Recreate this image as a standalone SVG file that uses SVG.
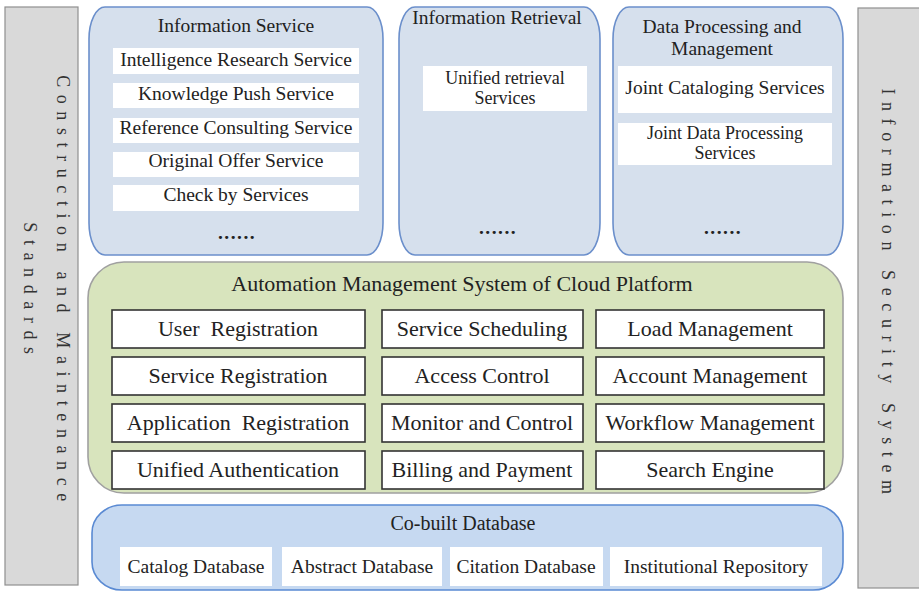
<svg xmlns="http://www.w3.org/2000/svg" width="919" height="592" viewBox="0 0 919 592">
<style>
text{font-family:"Liberation Serif","Times New Roman",serif;fill:#222;}
.side{fill:#d9d9d9;stroke:#8f8f8f;stroke-width:1.2;}
.sideT{font-size:18px;letter-spacing:7.6px;text-anchor:middle;dominant-baseline:central;fill:#333;}
.top{fill:#d6e0ed;stroke:#6b8fcb;stroke-width:1.6;}
.wbox{fill:#ffffff;stroke:none;}
.t19{font-size:19.5px;text-anchor:middle;}
.t18{font-size:18px;text-anchor:middle;}
.dots{font-size:19.5px;text-anchor:middle;font-weight:bold;letter-spacing:1.5px;}
.green{fill:#d8e4bd;stroke:#a0a0a0;stroke-width:1.6;}
.cell{fill:#ffffff;stroke:#333;stroke-width:1.6;}
.t22{font-size:22px;text-anchor:middle;}
.db{fill:#c6d9f1;stroke:#5a8ad3;stroke-width:1.6;}
</style>
<rect width="919" height="592" fill="#ffffff"/>

<g id="construction-standards">
<rect class="side" x="5" y="7" width="73" height="578"/>
<text class="sideT" transform="translate(63,292) rotate(90)">Construction and Maintenance</text>
<text class="sideT" transform="translate(30,292) rotate(90)">Standards</text>
</g>

<g id="security-system">
<rect class="side" x="858" y="8" width="64" height="580"/>
<text class="sideT" transform="translate(888,295) rotate(90)">Information Security System</text>
</g>

<g id="information-service">
<rect class="top" x="89" y="7" width="294" height="248" rx="16" ry="32"/>
<text class="t19" x="236" y="32">Information Service</text>
<rect class="wbox" x="113" y="48" width="246" height="26"/>
<text class="t19" x="236" y="66">Intelligence Research Service</text>
<rect class="wbox" x="113" y="83" width="246" height="25"/>
<text class="t19" x="236" y="100">Knowledge Push Service</text>
<rect class="wbox" x="113" y="118" width="246" height="25"/>
<text class="t19" x="236" y="134">Reference Consulting Service</text>
<rect class="wbox" x="113" y="152" width="246" height="25"/>
<text class="t19" x="236" y="167">Original Offer Service</text>
<rect class="wbox" x="113" y="185" width="246" height="26"/>
<text class="t19" x="236" y="201">Check by Services</text>
<text class="dots" x="237" y="239">......</text>
</g>

<g id="information-retrieval">
<rect class="top" x="399" y="7" width="201" height="248" rx="16" ry="32"/>
<text class="t19" x="497" y="24">Information Retrieval</text>
<rect class="wbox" x="423" y="66" width="164" height="45"/>
<text class="t18"><tspan x="505" y="84">Unified retrieval</tspan><tspan x="505" y="104">Services</tspan></text>
<text class="dots" x="498" y="234">......</text>
</g>

<g id="data-processing">
<rect class="top" x="613" y="7" width="230" height="248" rx="16" ry="32"/>
<text class="t19"><tspan x="722" y="33">Data Processing and</tspan><tspan x="722" y="55">Management</tspan></text>
<rect class="wbox" x="618" y="66" width="214" height="47"/>
<text class="t19" x="725" y="94">Joint Cataloging Services</text>
<rect class="wbox" x="618" y="123" width="214" height="42"/>
<text class="t18"><tspan x="725" y="139">Joint Data Processing</tspan><tspan x="725" y="159">Services</tspan></text>
<text class="dots" x="723" y="234">......</text>
</g>

<g id="automation-management">
<rect class="green" x="88" y="262" width="755" height="231" rx="36" ry="36"/>
<text class="t22" x="462" y="291">Automation Management System of Cloud Platform</text>
</g>

<g id="cell-user-registration"><rect class="cell" x="112" y="310" width="253" height="38"/><text class="t22" x="238" y="336" xml:space="preserve" style="white-space:pre">User  Registration</text></g>
<g id="cell-service-registration"><rect class="cell" x="112" y="357" width="253" height="38"/><text class="t22" x="238" y="383">Service Registration</text></g>
<g id="cell-application-registration"><rect class="cell" x="112" y="404" width="253" height="38"/><text class="t22" x="238" y="430" xml:space="preserve" style="white-space:pre">Application  Registration</text></g>
<g id="cell-unified-authentication"><rect class="cell" x="112" y="451" width="253" height="38"/><text class="t22" x="238" y="477">Unified Authentication</text></g>

<g id="cell-service-scheduling"><rect class="cell" x="382" y="310" width="201" height="38"/><text class="t22" x="482" y="336">Service Scheduling</text></g>
<g id="cell-access-control"><rect class="cell" x="382" y="357" width="201" height="38"/><text class="t22" x="482" y="383">Access Control</text></g>
<g id="cell-monitor-control"><rect class="cell" x="382" y="404" width="201" height="38"/><text class="t22" x="482" y="430">Monitor and Control</text></g>
<g id="cell-billing-payment"><rect class="cell" x="382" y="451" width="201" height="38"/><text class="t22" x="482" y="477">Billing and Payment</text></g>

<g id="cell-load-management"><rect class="cell" x="596" y="310" width="228" height="38"/><text class="t22" x="710" y="336">Load Management</text></g>
<g id="cell-account-management"><rect class="cell" x="596" y="357" width="228" height="38"/><text class="t22" x="710" y="383">Account Management</text></g>
<g id="cell-workflow-management"><rect class="cell" x="596" y="404" width="228" height="38"/><text class="t22" x="710" y="430">Workflow Management</text></g>
<g id="cell-search-engine"><rect class="cell" x="596" y="451" width="228" height="38"/><text class="t22" x="710" y="477">Search Engine</text></g>

<g id="co-built-database">
<rect class="db" x="92" y="505" width="751" height="85" rx="30" ry="28"/>
<text class="t19" x="463" y="530" style="font-size:20px">Co-built Database</text>
<rect class="wbox" x="120" y="547" width="152" height="39"/>
<text class="t19" x="196" y="573">Catalog Database</text>
<rect class="wbox" x="282" y="547" width="160" height="39"/>
<text class="t19" x="362" y="573">Abstract Database</text>
<rect class="wbox" x="450" y="547" width="153" height="39"/>
<text class="t19" x="526" y="573">Citation Database</text>
<rect class="wbox" x="610" y="547" width="212" height="39"/>
<text class="t19" x="716" y="573">Institutional Repository</text>
</g>

<g id="connectors"/>
</svg>
